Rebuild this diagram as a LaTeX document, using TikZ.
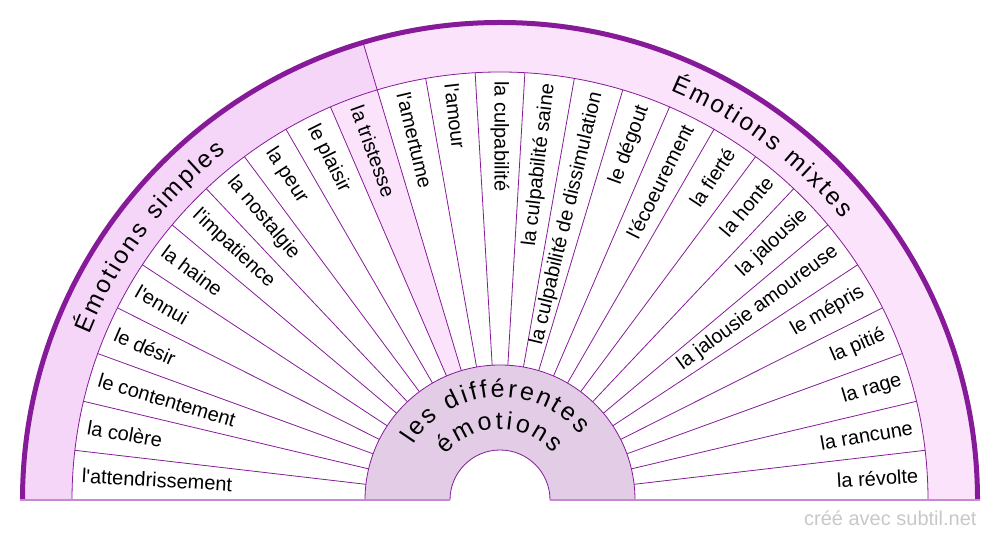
\documentclass[tikz,border=0pt]{standalone}
\usepackage{fontspec}
\newfontfamily\lblfont{Liberation Sans}
\usetikzlibrary{decorations.text}
\tikzstyle{every picture}+=[font=\lblfont]
\tikzstyle{emo}=[inner sep=0pt, font=\lblfont\fontsize{20}{20}\selectfont]
\tikzstyle{spoke}=[draw=violett, line width=0.8pt]

\begin{document}
\begin{tikzpicture}[x=1pt,y=1pt]

\definecolor{violett}{HTML}{861A98}
\definecolor{bandlinks}{HTML}{F5D6F9}
\definecolor{bandrechts}{HTML}{FBE3FC}
\definecolor{mitte}{HTML}{E2CCE6}
\definecolor{sockel}{HTML}{C68AD2}
\definecolor{grau}{HTML}{C8C8C8}

\useasboundingbox (0,0) rectangle (1000,540);

\begin{scope}[shift={(500,40)}]
%% outer bands
\fill[bandlinks] (180:428) arc[start angle=180, end angle=106.667, radius=428]
  -- (106.667:478) arc[start angle=106.667, end angle=180, radius=478] -- cycle;
\fill[bandrechts] (106.667:428) arc[start angle=106.667, end angle=0, radius=428]
  -- (0:478) arc[start angle=0, end angle=106.667, radius=478] -- cycle;
%% la tristesse
\fill[bandrechts] (113.333:135) -- (113.333:428)
  arc[start angle=113.333, end angle=106.667, radius=428] -- (106.667:135) -- cycle;

%% spokes
\foreach \k in {1,...,26}{
  \pgfmathsetmacro{\w}{\k*20/3}
  \draw[spoke] (\w:135) -- (\w:428);
}

%% centre
\fill[mitte] (0:135) arc[start angle=0, end angle=180, radius=135]
  -- (180:50) arc[start angle=180, end angle=0, radius=50] -- cycle;
\draw[spoke] (0:135) arc[start angle=0, end angle=180, radius=135];
\draw[spoke] (0:50) arc[start angle=0, end angle=180, radius=50];

%% band edges
\draw[spoke] (0:428) arc[start angle=0, end angle=180, radius=428];
\draw[spoke] (106.667:428) -- (106.667:478);
\draw[violett, line width=5pt] (0:477.5) arc[start angle=0, end angle=180, radius=477.5];
\draw[sockel, line width=1.5pt] (-480,0) -- (-50,0);
\draw[sockel, line width=1.5pt] (50,0) -- (480,0);

%% simple emotions
\foreach \emo [count=\i] in {l'attendrissement,la colère,le contentement,le désir,l'ennui,la haine,l'impatience,la nostalgie,la peur,le plaisir,la tristesse}{
  \pgfmathsetmacro{\a}{180-(\i-0.5)*20/3}
  \node[emo, anchor=west, rotate=\a-180] (simple\i) at (\a:419) {\emo};
}

%% mixed emotions
\foreach \emo [count=\i] in {l'amertume,l'amour,la culpabilité,la culpabilité saine,la culpabilité de dissimulation,le dégout,l'écoeurement,la fierté,la honte,la jalousie,la jalousie amoureuse,le mépris,la pitié,la rage,la rancune,la révolte}{
  \pgfmathsetmacro{\a}{320/3-(\i-0.5)*20/3}
  \ifdim\a pt>89pt
    \node[emo, anchor=west, rotate=\a-180] (mixte\i) at (\a:419) {\emo};
  \else
    \node[emo, anchor=east, rotate=\a] (mixte\i) at (\a:419) {\emo};
  \fi
}

%% curved titles
\path[postaction={decorate,
      decoration={text along path, text align=fit to path,
      text={|\lblfont\fontsize{24.5}{24.5}\selectfont|Émotions simples}}}]
  (158:443) arc[start angle=158, end angle=128.2, radius=443];
\path[postaction={decorate,
      decoration={text along path, text align=fit to path,
      text={|\lblfont\fontsize{24.5}{24.5}\selectfont|Émotions mixtes}}}]
  (67.4:443) arc[start angle=67.4, end angle=39.4, radius=443];
\path[postaction={decorate,
      decoration={text along path, text align=fit to path,
      text={|\lblfont\fontsize{25}{25}\selectfont|les différentes}}}]
  (147.5:103) arc[start angle=147.5, end angle=39.5, radius=103];
\path[postaction={decorate,
      decoration={text along path, text align=fit to path,
      text={|\lblfont\fontsize{25}{25}\selectfont|émotions}}}]
  (140:71) arc[start angle=140, end angle=41, radius=71];
\end{scope}

\node[anchor=base east, text=grau, font=\lblfont\fontsize{20}{20}\selectfont] (credit) at (980,14.5) {créé avec subtil.net};

\end{tikzpicture}
\end{document}
